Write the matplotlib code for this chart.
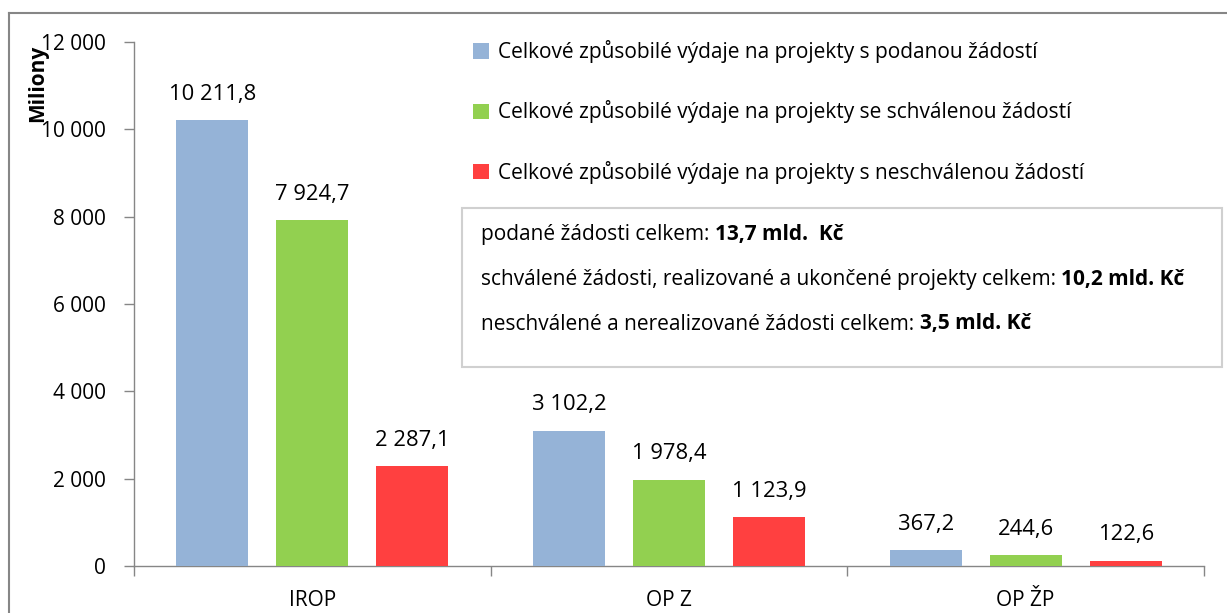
import matplotlib
matplotlib.use("Agg")
import matplotlib.pyplot as plt
from matplotlib.lines import Line2D
from matplotlib.patches import Rectangle
import numpy as np

categories = ["IROP", "OP Z", "OP ŽP"]
podane = [10211.8, 3102.2, 367.2]
schvalene = [7924.7, 1978.4, 244.6]
neschvalene = [2287.1, 1123.9, 122.6]
series_names = [
    "Celkové způsobilé výdaje na projekty s podanou žádostí",
    "Celkové způsobilé výdaje na projekty se schválenou žádostí",
    "Celkové způsobilé výdaje na projekty s neschválenou žádostí",
]
colors = ["#95b3d7", "#92d050", "#ff4040"]
yticks = [0, 2000, 4000, 6000, 8000, 10000, 12000]

plt.rcParams['font.family'] = ['Open Sans', 'DejaVu Sans']
FS = 15

W, H = 1227, 613
fig = plt.figure(figsize=(W/100, H/100), dpi=100)
AX0, AX1 = 134, 1204
ax = fig.add_axes([AX0/W, 1-566/H, (AX1-AX0)/W, (566-42)/H])
cw = (AX1-AX0)/3

x = np.arange(len(categories))
off = 100/cw
bw = 72/cw
series = [podane, schvalene, neschvalene]
for i, (vals, c, name) in enumerate(zip(series, colors, series_names)):
    pos = x + (i-1)*off
    ax.bar(pos, vals, width=bw, color=c, label=name, zorder=3)
    for p, v in zip(pos, vals):
        s = f"{v:,.1f}".replace(",", " ").replace(".", ",")
        ax.annotate(s, (p, v), xytext=(0, 11), textcoords="offset points",
                    ha="center", va="bottom", fontsize=15.8)

ax.set_xlim(-0.5, 2.5)
ax.set_ylim(0, 12000)
ax.set_yticks(yticks)
ax.set_yticklabels([f"{t:,}".replace(",", " ") for t in yticks], fontsize=FS)
ax.set_xticks(x)
ax.set_xticklabels(categories, fontsize=FS)
ax.set_xticks([-0.5, 0.5, 1.5, 2.5], minor=True)
ax.tick_params(axis='x', which='major', length=0, pad=17)
ax.tick_params(axis='x', which='minor', length=7, color='#868686', width=1, direction='out')
ax.tick_params(axis='y', length=7, color='#868686', width=1, direction='out', pad=13)
for s in ['top', 'right']:
    ax.spines[s].set_visible(False)
for s in ['left', 'bottom']:
    ax.spines[s].set_color('#868686')
    ax.spines[s].set_linewidth(1)

fig.text(38/W, 1-83/H, "Miliony", rotation=90, ha='center', va='center',
         fontsize=FS, fontweight='bold')

# legend
ax.legend(loc='upper left', bbox_to_anchor=((465-AX0)/(AX1-AX0), 1 + (42-32)/(566-42)),
          frameon=False, fontsize=FS, handlelength=0.75, handleheight=0.75,
          labelspacing=1.78, handletextpad=0.45, borderaxespad=0)

# text box
fig.patches.append(Rectangle((462/W, 1-367/H), (1222-462)/W, (367-208)/H,
                             transform=fig.transFigure, fill=False,
                             edgecolor='#d0d0d0', linewidth=1.5))
lines = [("podané žádosti celkem: ", "13,7 mld.  Kč", 235),
         ("schválené žádosti, realizované a ukončené projekty celkem: ", "10,2 mld. Kč", 280),
         ("neschválené a nerealizované žádosti celkem: ", "3,5 mld. Kč", 324)]
fig.canvas.draw()
r = fig.canvas.get_renderer()
for normal, bold, yy in lines:
    t = fig.text(481/W, 1-yy/H, normal, fontsize=FS, va='center', ha='left')
    bb = t.get_window_extent(renderer=r)
    fig.text(bb.x1/W, 1-yy/H, bold, fontsize=FS, va='center', ha='left', fontweight='bold')

# outer frame (left and top edges)
fig.add_artist(Line2D([8.5/W, 8.5/W], [0, 1-12.5/H], transform=fig.transFigure,
                      color='#868686', linewidth=1.5))
fig.add_artist(Line2D([8.5/W, 1], [1-12.5/H, 1-12.5/H], transform=fig.transFigure,
                      color='#868686', linewidth=1.5))

fig.savefig("out.png", dpi=100)
